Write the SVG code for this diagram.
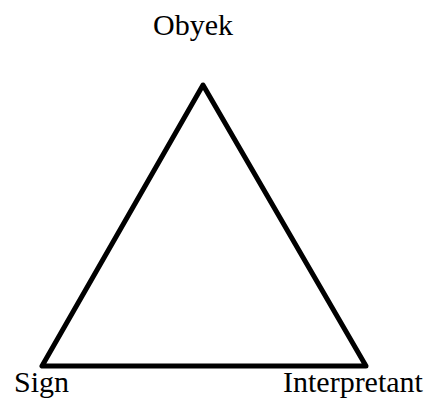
<svg xmlns="http://www.w3.org/2000/svg" width="438" height="403" viewBox="0 0 438 403">
<style>
.lbl{font-family:"Liberation Serif","Times New Roman",serif;font-size:30px;fill:#000}
.edge{fill:none;stroke:#000;stroke-width:5;stroke-linejoin:round;stroke-linecap:round}
</style>
<rect width="438" height="403" fill="#fff"/>
<g id="connectors">
<path class="edge" d="M203,85 L42,366 L366,366 Z"/>
</g>
<g id="obyek"><text class="lbl" x="153" y="35">Obyek</text></g>
<g id="sign"><text class="lbl" x="14" y="392">Sign</text></g>
<g id="interpretant"><text class="lbl" x="283" y="392">Interpretant</text></g>
</svg>
